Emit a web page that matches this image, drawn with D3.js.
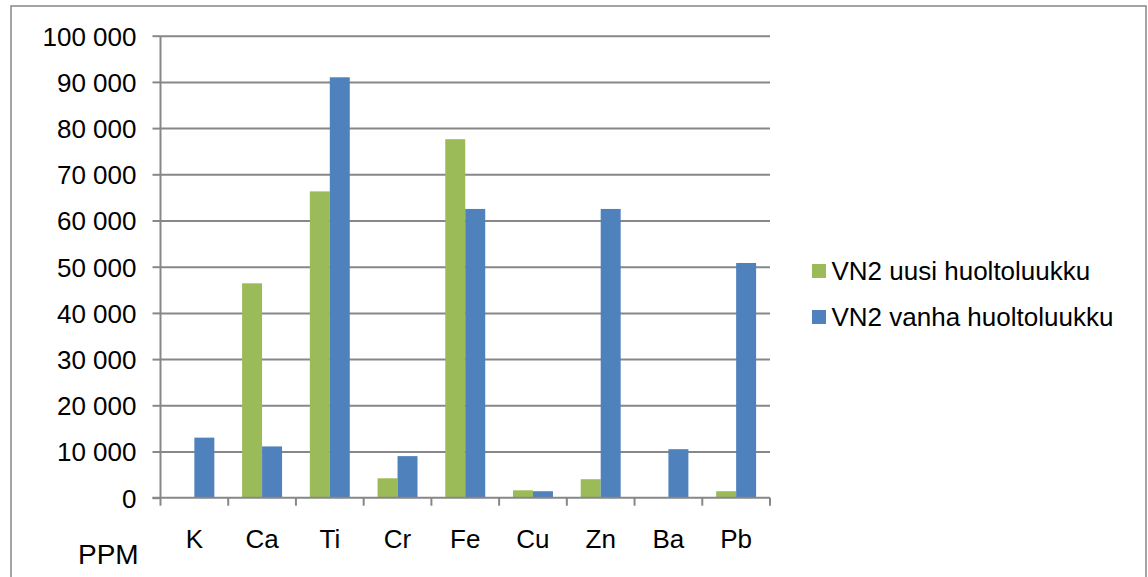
<!DOCTYPE html>
<html>
<head>
<meta charset="utf-8">
<script src="https://cdn.jsdelivr.net/npm/d3@7"></script>
<style>
  html, body { margin: 0; padding: 0; background: #fff; }
  svg text { font-family: "Liberation Sans", Arial, sans-serif; fill: #000; }
</style>
</head>
<body>
<svg id="chart" width="1148" height="577"></svg>
<script>
// Element concentrations (ppm) for the two service hatches
const elements = ["K", "Ca", "Ti", "Cr", "Fe", "Cu", "Zn", "Ba", "Pb"];
const seriesNames = ["VN2 uusi huoltoluukku", "VN2 vanha huoltoluukku"];
const uusiValues  = [0, 46400, 66300, 4200, 77600, 1600, 4000, 0, 1400];
const vanhaValues = [13000, 11100, 91000, 9000, 62500, 1400, 62500, 10500, 50800];
const seriesColors = ["#9BBB59", "#4F81BD"];
const yTickValues = [0, 10000, 20000, 30000, 40000, 50000, 60000, 70000, 80000, 90000, 100000];
const yAxisTitle = "PPM";

const svg = d3.select("#chart");
const plot = { left: 160.5, right: 770, top: 35.7, bottom: 497.7 };
const gray = "#878787";

// Outer chart frame
svg.append("rect")
  .attr("x", 11).attr("y", 6)
  .attr("width", 1135).attr("height", 620)
  .attr("fill", "none").attr("stroke", gray).attr("stroke-width", 1.5);

const y = d3.scaleLinear().domain([0, 100000]).range([plot.bottom, plot.top]);
const x0 = d3.scaleBand().domain(elements).range([plot.left, plot.right])
  .paddingInner(0.41).paddingOuter(0.205);
const x1 = d3.scaleBand().domain(seriesNames).range([0, x0.bandwidth()]);

// Horizontal gridlines
const grid = svg.append("g").attr("transform", `translate(${plot.left},0)`)
  .call(d3.axisLeft(y).tickValues(yTickValues.slice(1))
    .tickSize(-(plot.right - plot.left)).tickFormat(""));
grid.select(".domain").remove();
grid.selectAll("line").attr("stroke", gray).attr("stroke-width", 2);

// Bars
const rows = elements.map((e, i) => ({ element: e, values: [uusiValues[i], vanhaValues[i]] }));
svg.append("g").selectAll("g").data(rows).join("g")
  .attr("transform", d => `translate(${x0(d.element)},0)`)
  .selectAll("rect")
  .data(d => d.values.map((v, j) => ({ name: seriesNames[j], value: v, color: seriesColors[j] })))
  .join("rect")
  .attr("x", d => x1(d.name))
  .attr("width", x1.bandwidth())
  .attr("y", d => y(d.value))
  .attr("height", d => y(0) - y(d.value))
  .attr("fill", d => d.color);

// Y axis with space-grouped thousands
const fmt = v => d3.format(",")(v).replace(/,/g, " ");
const yAxis = svg.append("g").attr("transform", `translate(${plot.left},0)`)
  .call(d3.axisLeft(y).tickValues(yTickValues).tickSize(8).tickPadding(16).tickFormat(fmt));
yAxis.select(".domain").attr("stroke", gray).attr("stroke-width", 2)
  .attr("d", `M0,${plot.top}V${plot.bottom}`);
yAxis.selectAll("line").attr("stroke", gray).attr("stroke-width", 2);
yAxis.selectAll("text").attr("font-size", 26).attr("dy", "0.36em")
  .style("font-family", "'Liberation Sans', Arial, sans-serif").attr("fill", "#000");

// X axis: category labels centred in bands, ticks on band boundaries
const xAxis = svg.append("g").attr("transform", `translate(0,${plot.bottom})`)
  .call(d3.axisBottom(x0).tickSize(0).tickPadding(0));
xAxis.select(".domain").attr("stroke", gray).attr("stroke-width", 2)
  .attr("d", `M${plot.left - 8},0H${plot.right}`);
xAxis.selectAll("text").attr("font-size", 26).attr("y", 50).attr("dy", 0)
  .style("font-family", "'Liberation Sans', Arial, sans-serif").attr("fill", "#000");
const boundaries = d3.range(elements.length + 1).map(i => plot.left + i * x0.step());
xAxis.selectAll(".bound").data(boundaries).join("line")
  .attr("class", "bound")
  .attr("x1", d => d).attr("x2", d => d)
  .attr("y1", 0).attr("y2", 8)
  .attr("stroke", gray).attr("stroke-width", 2);

// Axis title
svg.append("text").attr("x", 78).attr("y", 563.5)
  .attr("font-size", 28).text(yAxisTitle);

// Legend
const legend = svg.append("g").selectAll("g").data(seriesNames).join("g")
  .attr("transform", (d, i) => `translate(812,${264 + i * 46})`);
legend.append("rect").attr("width", 14).attr("height", 14)
  .attr("fill", (d, i) => seriesColors[i]);
legend.append("text").attr("x", 19.5).attr("y", 16.3)
  .attr("font-size", 26).text(d => d);
</script>
</body>
</html>
